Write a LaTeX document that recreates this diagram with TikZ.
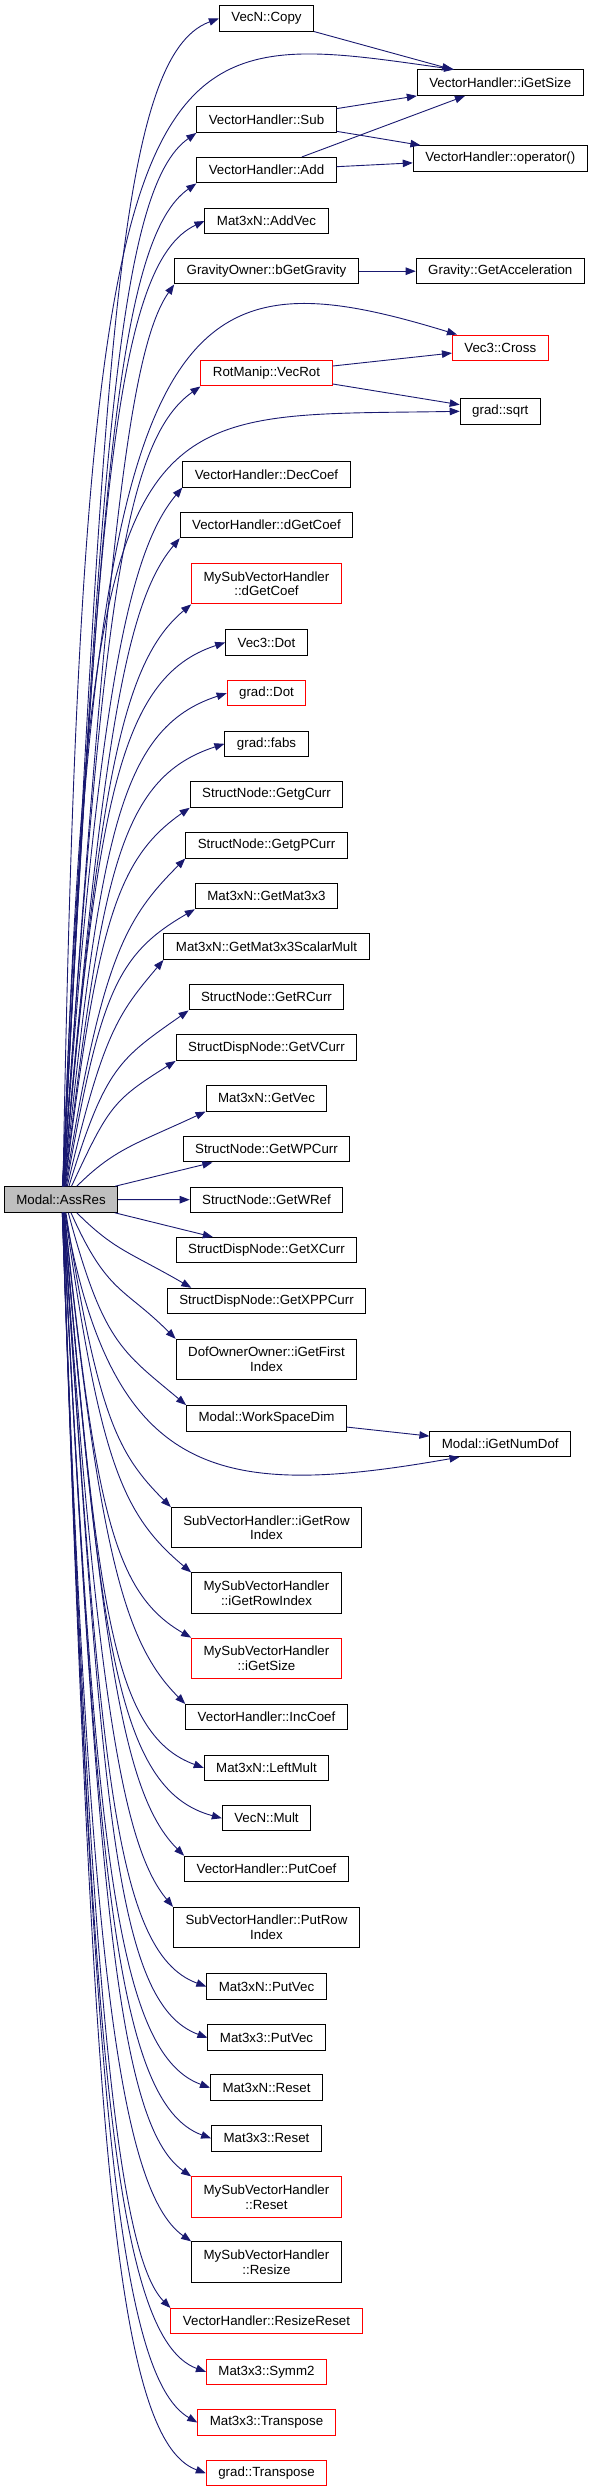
\documentclass[tikz,border=0pt]{standalone}
\usepackage{fontspec}
\setmainfont{Liberation Sans}
\usetikzlibrary{arrows.meta}
\definecolor{navyblue}{HTML}{191970}
\definecolor{nodegray}{HTML}{BFBFBF}

\begin{document}
\begin{tikzpicture}[x=1pt, y=1pt,
    fn/.style   = {draw=black, fill=white, line width=1pt,
      inner xsep=12pt, inner ysep=0pt, minimum height=25.5pt,
      font=\fontsize{13.3}{14.7}\selectfont, align=center},
    fnred/.style = {fn, draw=red},
    two/.style  = {minimum height=40.3pt},
    main/.style = {fn, fill=nodegray},
    call/.style = {draw=navyblue, line width=0.9pt,
      -{Triangle[length=10pt,width=7.5pt]}},
  ]
  \useasboundingbox (0,0) rectangle (589,-2492);

  % caller
  \node[main] (AssRes) at (61,-1199.5) {Modal::AssRes};

  % first level callees
  \node[fn]        (VecNCopy)      at (266.5,-18.5)   {VecN::Copy};
  \node[fn]        (VHSub)         at (266.5,-119.7)  {VectorHandler::Sub};
  \node[fn]        (VHAdd)         at (266.5,-170.2)  {VectorHandler::Add};
  \node[fn]        (AddVec)        at (266.5,-221)    {Mat3xN::AddVec};
  \node[fn]        (GetGravity)    at (266.5,-271.2)  {GravityOwner::bGetGravity};
  \node[fnred]     (VecRot)        at (266.5,-373.2)  {RotManip::VecRot};
  \node[fn]        (DecCoef)       at (266.5,-474.3)  {VectorHandler::DecCoef};
  \node[fn]        (DGetCoef)      at (266.5,-525)    {VectorHandler::dGetCoef};
  \node[fnred,two] (MyDGetCoef)    at (266.5,-583.7)  {MySubVectorHandler\\::dGetCoef};
  \node[fn]        (VecDot)        at (266.5,-642.5)  {Vec3::Dot};
  \node[fnred]     (GradDot)       at (266.5,-693.2)  {grad::Dot};
  \node[fn]        (GradFabs)      at (266.5,-743.8)  {grad::fabs};
  \node[fn]        (GetgCurr)      at (266.5,-794.5)  {StructNode::GetgCurr};
  \node[fn]        (GetgPCurr)     at (266.5,-845.3)  {StructNode::GetgPCurr};
  \node[fn]        (GetMat)        at (266.5,-896)    {Mat3xN::GetMat3x3};
  \node[fn]        (GetMatMult)    at (266.5,-946.7)  {Mat3xN::GetMat3x3ScalarMult};
  \node[fn]        (GetRCurr)      at (266.5,-997.2)  {StructNode::GetRCurr};
  \node[fn]        (GetVCurr)      at (266.5,-1047.7) {StructDispNode::GetVCurr};
  \node[fn]        (GetVec)        at (266.5,-1098.3) {Mat3xN::GetVec};
  \node[fn]        (GetWPCurr)     at (266.5,-1149.2) {StructNode::GetWPCurr};
  \node[fn]        (GetWRef)       at (266.5,-1199.8) {StructNode::GetWRef};
  \node[fn]        (GetXCurr)      at (266.5,-1250.2) {StructDispNode::GetXCurr};
  \node[fn]        (GetXPPCurr)    at (266.5,-1301)   {StructDispNode::GetXPPCurr};
  \node[fn,two]    (FirstIndex)    at (266.5,-1359.5) {DofOwnerOwner::iGetFirst\\Index};
  \node[fn]        (WorkSpace)     at (266.5,-1418.3) {Modal::WorkSpaceDim};
  \node[fn,two]    (SubRowIndex)   at (266.5,-1527.7) {SubVectorHandler::iGetRow\\Index};
  \node[fn,two]    (MyRowIndex)    at (266.5,-1593)   {MySubVectorHandler\\::iGetRowIndex};
  \node[fnred,two] (MyGetSize)     at (266.5,-1658.3) {MySubVectorHandler\\::iGetSize};
  \node[fn]        (IncCoef)       at (266.5,-1717.2) {VectorHandler::IncCoef};
  \node[fn]        (LeftMult)      at (266.5,-1767.8) {Mat3xN::LeftMult};
  \node[fn]        (VecNMult)      at (266.5,-1818.2) {VecN::Mult};
  \node[fn]        (PutCoef)       at (266.5,-1869)   {VectorHandler::PutCoef};
  \node[fn,two]    (PutRowIndex)   at (266.5,-1927.5) {SubVectorHandler::PutRow\\Index};
  \node[fn]        (PutVecN)       at (266.5,-1986.5) {Mat3xN::PutVec};
  \node[fn]        (PutVecT)       at (266.5,-2037.7) {Mat3x3::PutVec};
  \node[fn]        (ResetN)        at (266.5,-2087.7) {Mat3xN::Reset};
  \node[fn]        (ResetT)        at (266.5,-2138.3) {Mat3x3::Reset};
  \node[fnred,two] (MyReset)       at (266.5,-2197)   {MySubVectorHandler\\::Reset};
  \node[fn,two]    (MyResize)      at (266.5,-2262)   {MySubVectorHandler\\::Resize};
  \node[fnred]     (ResizeReset)   at (266.5,-2321.2) {VectorHandler::ResizeReset};
  \node[fnred]     (Symm)          at (266.5,-2371.8) {Mat3x3::Symm2};
  \node[fnred]     (TransposeT)    at (266.5,-2422.5) {Mat3x3::Transpose};
  \node[fnred]     (GradTranspose) at (266.5,-2473.2) {grad::Transpose};

  % second level callees
  \node[fn]    (IGetSize) at (500.3,-82.7)   {VectorHandler::iGetSize};
  \node[fn]    (Operator) at (500.3,-158.5)  {VectorHandler::operator()};
  \node[fn]    (GetAccel) at (500.3,-271.2)  {Gravity::GetAcceleration};
  \node[fnred] (Cross)    at (500.3,-347.8)  {Vec3::Cross};
  \node[fn]    (Sqrt)     at (500.3,-411.3)  {grad::sqrt};
  \node[fn]    (NumDof)   at (500.3,-1443.8) {Modal::iGetNumDof};

  % calls going up
  \draw[call] ([xshift=1.4pt]AssRes.north) .. controls +(87:818pt) and +(200:110pt) .. (VecNCopy.west);
  \draw[call] ([xshift=2pt]AssRes.north) .. controls +(89:1187pt) and +(172:310pt) .. (IGetSize.164);
  \draw[call] ([xshift=1.5pt]AssRes.north) .. controls +(87:738pt) and +(215:95pt) .. (VHSub.south west);
  \draw[call] ([xshift=1.6pt]AssRes.north) .. controls +(87:703pt) and +(215:95pt) .. (VHAdd.south west);
  \draw[call] ([xshift=1.6pt]AssRes.north) .. controls +(87:676pt) and +(205:100pt) .. (AddVec.west);
  \draw[call] ([xshift=1.7pt]AssRes.north) .. controls +(86:632pt) and +(235:80pt) .. (GetGravity.south west);
  \draw[call] ([xshift=2pt]AssRes.north) .. controls +(88:887pt) and +(163:295pt) .. (Cross.163);
  \draw[call] ([xshift=1.9pt]AssRes.north) .. controls +(86:561pt) and +(215:97pt) .. (VecRot.south west);
  \draw[call] ([xshift=2pt]AssRes.north) .. controls +(88:807pt) and +(181:332pt) .. (Sqrt.west);
  \draw[call] ([xshift=2.2pt]AssRes.north) .. controls +(86:490pt) and +(230:84pt) .. (DecCoef.south west);
  \draw[call] ([xshift=2.4pt]AssRes.north) .. controls +(85:454pt) and +(230:83pt) .. (DGetCoef.south west);
  \draw[call] ([xshift=2.6pt]AssRes.north) .. controls +(85:408pt) and +(220:90pt) .. (MyDGetCoef.south west);
  \draw[call] ([xshift=2.9pt]AssRes.north) .. controls +(85:381pt) and +(198:113pt) .. (VecDot.west);
  \draw[call] ([xshift=3.2pt]AssRes.north) .. controls +(84:346pt) and +(198:115pt) .. (GradDot.west);
  \draw[call] ([xshift=3.5pt]AssRes.north) .. controls +(83:310pt) and +(198:113pt) .. (GradFabs.west);
  \draw[call] ([xshift=4pt]AssRes.north) .. controls +(83:265pt) and +(215:89pt) .. (GetgCurr.south west);
  \draw[call] ([xshift=4.5pt]AssRes.north) .. controls +(81:230pt) and +(225:85pt) .. (GetgPCurr.south west);
  \draw[call] ([xshift=5.3pt]AssRes.north) .. controls +(80:195pt) and +(210:91pt) .. (GetMat.south west);
  \draw[call] ([xshift=6.3pt]AssRes.north) .. controls +(77:159pt) and +(230:69pt) .. (GetMatMult.south west);
  \draw[call] ([xshift=7.9pt]AssRes.north) .. controls +(73:124pt) and +(215:85pt) .. (GetRCurr.south west);
  \draw[call] ([xshift=10.5pt]AssRes.north) .. controls +(65:88pt) and +(212:74pt) .. (GetVCurr.south west);
  \draw[call] ([xshift=15.8pt]AssRes.north) .. controls +(45:53pt) and +(205:77pt) .. (GetVec.south west);
  \draw[call] (AssRes) -- (GetWPCurr);
  \draw[call] (AssRes) -- (GetWRef);
  \draw[call] (AssRes) -- (GetXCurr);

  % calls going down
  \draw[call] ([xshift=15.8pt]AssRes.south) .. controls +(-45:53pt) and +(150:72pt) .. (GetXPPCurr.170);
  \draw[call] ([xshift=10pt]AssRes.south) .. controls +(-66:89pt) and +(135:74pt) .. (FirstIndex.north west);
  \draw[call] ([xshift=7.3pt]AssRes.south) .. controls +(-75:135pt) and +(140:84pt) .. (WorkSpace.north west);
  \draw[call] ([xshift=4pt]AssRes.south) .. controls +(-80:272pt) and +(190:244pt) .. (NumDof.198);
  \draw[call] ([xshift=4.9pt]AssRes.south) .. controls +(-81:207pt) and +(135:75pt) .. (SubRowIndex.north west);
  \draw[call] ([xshift=4.1pt]AssRes.south) .. controls +(-82:252pt) and +(140:90pt) .. (MyRowIndex.north west);
  \draw[call] ([xshift=3.5pt]AssRes.south) .. controls +(-84:298pt) and +(150:90pt) .. (MyGetSize.north west);
  \draw[call] ([xshift=3.1pt]AssRes.south) .. controls +(-84:344pt) and +(135:86pt) .. (IncCoef.north west);
  \draw[call] ([xshift=2.8pt]AssRes.south) .. controls +(-85:389pt) and +(160:99pt) .. (LeftMult.west);
  \draw[call] ([xshift=2.6pt]AssRes.south) .. controls +(-85:424pt) and +(165:111pt) .. (VecNMult.west);
  \draw[call] ([xshift=2.4pt]AssRes.south) .. controls +(-85:451pt) and +(135:85pt) .. (PutCoef.north west);
  \draw[call] ([xshift=2.2pt]AssRes.south) .. controls +(-86:487pt) and +(130:78pt) .. (PutRowIndex.north west);
  \draw[call] ([xshift=2pt]AssRes.south) .. controls +(-86:542pt) and +(160:101pt) .. (PutVecN.west);
  \draw[call] ([xshift=1.9pt]AssRes.south) .. controls +(-86:578pt) and +(160:102pt) .. (PutVecT.west);
  \draw[call] ([xshift=1.8pt]AssRes.south) .. controls +(-87:613pt) and +(160:104pt) .. (ResetN.west);
  \draw[call] ([xshift=1.7pt]AssRes.south) .. controls +(-87:648pt) and +(160:104pt) .. (ResetT.west);
  \draw[call] ([xshift=1.6pt]AssRes.south) .. controls +(-87:675pt) and +(145:91pt) .. (MyReset.north west);
  \draw[call] ([xshift=1.5pt]AssRes.south) .. controls +(-88:721pt) and +(145:91pt) .. (MyResize.north west);
  \draw[call] ([xshift=1.4pt]AssRes.south) .. controls +(-88:767pt) and +(135:76pt) .. (ResizeReset.north west);
  \draw[call] ([xshift=1.4pt]AssRes.south) .. controls +(-88:812pt) and +(160:101pt) .. (Symm.west);
  \draw[call] ([xshift=1.3pt]AssRes.south) .. controls +(-88:847pt) and +(150:96pt) .. (TransposeT.west);
  \draw[call] ([xshift=1.3pt]AssRes.south) .. controls +(-88:883pt) and +(160:102pt) .. (GradTranspose.west);

  % second level calls
  \draw[call] (VecNCopy) -- (IGetSize);
  \draw[call] (VHSub) -- (IGetSize);
  \draw[call] (VHSub) -- (Operator);
  \draw[call] (VHAdd) -- (IGetSize);
  \draw[call] (VHAdd) -- (Operator);
  \draw[call] (GetGravity) -- (GetAccel);
  \draw[call] (VecRot) -- (Cross);
  \draw[call] (VecRot) -- (Sqrt);
  \draw[call] (WorkSpace) -- (NumDof);
\end{tikzpicture}
\end{document}
